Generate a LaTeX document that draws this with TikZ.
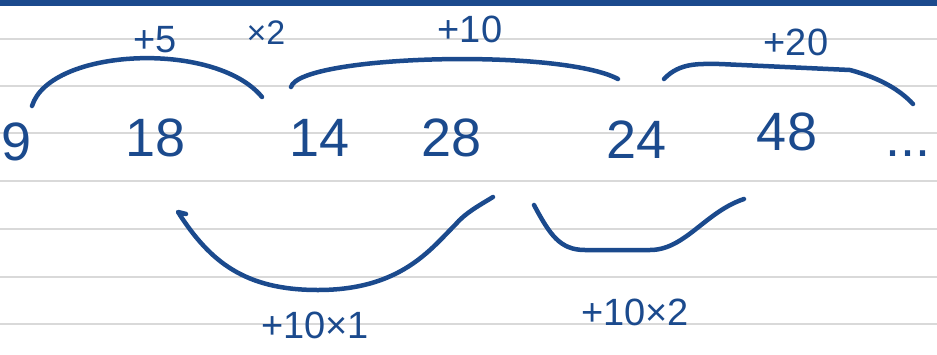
\documentclass[tikz,border=0pt]{standalone}
\usepackage{fontspec}
\setmainfont{Liberation Sans}
\usepackage{tikz}
\usetikzlibrary{positioning,calc}
\definecolor{inkblue}{HTML}{1B4A8D}
\definecolor{rulegray}{HTML}{D9D9D9}
\tikzset{
  num/.style={text=inkblue, font=\fontsize{54}{54}\selectfont, inner sep=0pt},
  note/.style={text=inkblue, font=\fontsize{38}{38}\selectfont, inner sep=0pt},
  stroke/.style={draw=inkblue, line width=4.5pt, line cap=round, line join=round},
  ruled/.style={draw=rulegray, line width=1.6pt}
}

\begin{document}
\begin{tikzpicture}[x=1pt, y=-1pt]
  \useasboundingbox (0,0) rectangle (937,354);
  \fill[inkblue] (0,0) rectangle (937,6);
  \foreach \y in {39,86,133,181,229,277,324}
    \draw[ruled] (0,\y) -- (937,\y);

  % sequence
  \node[num] (n9) at (17,142) {9};
  \node[num] (n18) at (156,138) {18};
  \node[num] (n14) at (320,138) {14};
  \node[num] (n28) at (452,138) {28};
  \node[num] (n24) at (637,140) {24};
  \node[num] (n48) at (787,132) {48};
  \node[num, anchor=base] (more) at (908,156) {...};

  % notes
  \node[note] (plus5) at (155,40) {+5};
  \node[note, font=\fontsize{34}{34}\selectfont] (times2) at (266,33) {×2};
  \node[note] (plus10) at (470,29) {+10};
  \node[note] (plus20) at (796,42) {+20};
  \node[note] (tenx1) at (315,325) {+10×1};
  \node[note] (tenx2) at (635,312) {+10×2};

  % arc ends
  \coordinate (a9) at (32,106);
  \coordinate (b14) at (262,97);
  \coordinate (a14) at (291,87);
  \coordinate (b24) at (618,79);
  \coordinate (a24) at (664,79);
  \coordinate (b48) at (913,104);
  \coordinate (a18) at (178,212);
  \coordinate (b28) at (493,197);
  \coordinate (a28) at (534,205);
  \coordinate (c48) at (744,199);

  \draw[stroke] (a9) .. controls (50,48) and (215,40) .. (b14);
  \draw[stroke] (a14) .. controls (300,55) and (560,48) .. (b24);
  \draw[stroke] (a24) .. controls (680,62) and (700,64) .. (720,64) -- (850,70)
    .. controls (880,78) and (900,90) .. (b48);
  \draw[stroke] ($(a18)+(8,2)$) -- (a18) .. controls (210,262) and (245,290) .. (318,290)
    .. controls (400,290) and (430,250) .. (455,225)
    .. controls (465,213) and (480,205) .. (b28);
  \draw[stroke] (a28) .. controls (550,235) and (560,250) .. (585,250) -- (650,250)
    .. controls (685,250) and (705,212) .. (c48);
\end{tikzpicture}
\end{document}
